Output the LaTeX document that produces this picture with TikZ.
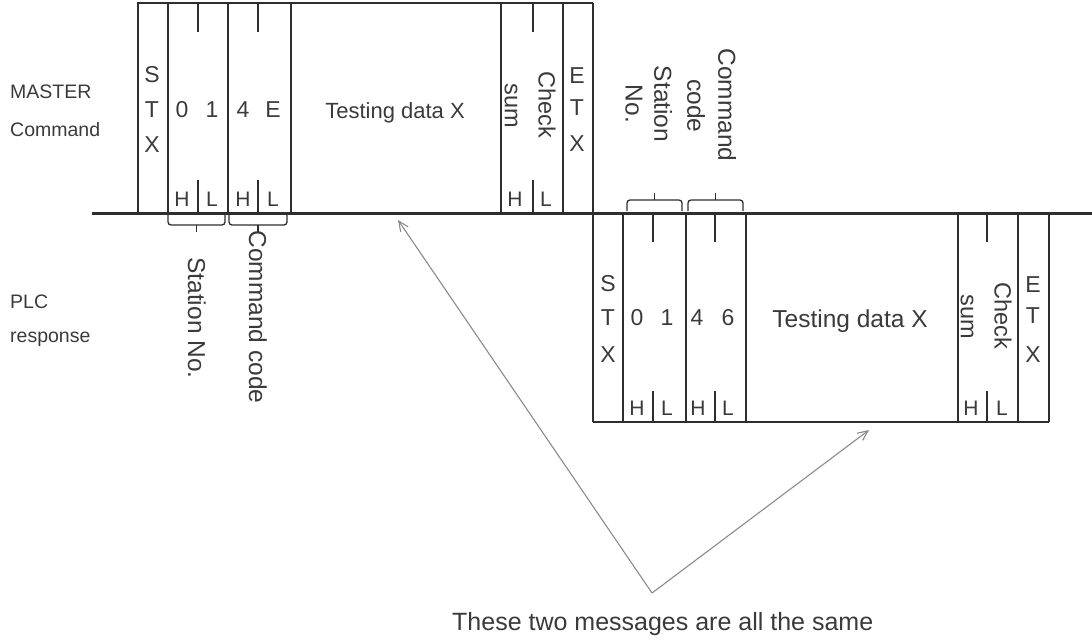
\documentclass[tikz,border=0pt]{standalone}
\usepackage{fontspec}
\setmainfont{Liberation Sans}
\usetikzlibrary{arrows.meta}
\definecolor{ink}{HTML}{2E2E2E}
\definecolor{txt}{HTML}{3A3A3A}
\definecolor{arr}{HTML}{8A8A8A}
\begin{document}
\begin{tikzpicture}[x=1pt,y=-1pt,
 frame/.style={draw=ink,line width=1.3pt},
 bus/.style={draw=ink,line width=3pt},
 ch/.style={text=txt,inner sep=0pt,font=\fontsize{23}{23}\selectfont},
 hl/.style={text=txt,inner sep=0pt,font=\fontsize{21}{21}\selectfont},
 lbl/.style={text=txt,inner sep=0pt,anchor=base west,font=\fontsize{19.5}{19.5}\selectfont},
 rot/.style={text=txt,inner sep=0pt,rotate=-90,font=\fontsize{24.5}{24.5}\selectfont},
 csum/.style={text=txt,inner sep=0pt,rotate=-90,font=\fontsize{23.5}{23.5}\selectfont},
 brace/.style={draw=ink,line width=1.3pt,rounded corners=3pt},
 pointer/.style={draw=arr,line width=1.1pt,-{Straight Barb[length=10pt,width=9pt]}}
]
\useasboundingbox (0,0) rectangle (1092,643);

% ---------- master command frame ----------
\draw[frame] (138,213) -- (138,3) -- (593,3);
\foreach \x in {168,228,291,501,563} \draw[frame] (\x,3) -- (\x,213);
\draw[frame] (593,3) -- (593,422);
\foreach \x in {198,258,533} {
  \draw[frame] (\x,3) -- (\x,32);
  \draw[frame] (\x,180) -- (\x,213);
}

% ---------- PLC response frame ----------
\foreach \x in {623,686,746,958,1018,1049} \draw[frame] (\x,214) -- (\x,422);
\draw[frame] (593,422) -- (1049,422);
\foreach \x in {653,715,987} {
  \draw[frame] (\x,214) -- (\x,242);
  \draw[frame] (\x,391) -- (\x,422);
}

% ---------- bus line ----------
\draw[bus] (92,213.5) -- (1092,213.5);

% ---------- braces ----------
\draw[brace] (168,215) -- (168,225) -- (225,225) -- (225,215);
\draw[frame] (196.5,225) -- (196.5,232);
\draw[brace] (229,215) -- (229,225) -- (287,225) -- (287,215);
\draw[frame] (258,225) -- (258,232);
\draw[brace] (627,211) -- (627,200) -- (682,200) -- (682,211);
\draw[frame] (654.5,200) -- (654.5,193);
\draw[brace] (688,211) -- (688,200) -- (743,200) -- (743,211);
\draw[frame] (715.5,200) -- (715.5,193);

% ---------- left labels ----------
\node[lbl] (lmaster) at (10,98) {MASTER};
\node[lbl] (lcommand) at (10,136) {Command};
\node[lbl] (lplc) at (10,308) {PLC};
\node[lbl] (lresp) at (10,342) {response};

% ---------- master texts ----------
\node[ch] (ms) at (152,75) {S};
\node[ch] (mt) at (152,110) {T};
\node[ch] (mx) at (152,145) {X};
\node[ch] (m0) at (182,110) {0};
\node[ch] (m1) at (212,110) {1};
\node[ch] (m4) at (243,110) {4};
\node[ch] (me) at (273,110) {E};
\node[hl] (mh1) at (182,199) {H};
\node[hl] (ml1) at (212,199) {L};
\node[hl] (mh2) at (243,199) {H};
\node[hl] (ml2) at (273,199) {L};
\node[text=txt,inner sep=0pt,anchor=base,font=\fontsize{22}{22}\selectfont] (mdata) at (395,118) {Testing data X};
\node[csum] (msum) at (511,106) {sum};
\node[csum] (mcheck) at (547,105) {Check};
\node[hl] (mh3) at (515,199) {H};
\node[hl] (ml3) at (546,199) {L};
\node[ch] (mee) at (577,76) {E};
\node[ch] (met) at (577,108) {T};
\node[ch] (mex) at (577,144) {X};

% ---------- response texts ----------
\node[ch] (rs) at (608,284) {S};
\node[ch] (rt) at (608,318) {T};
\node[ch] (rx) at (608,355) {X};
\node[ch] (r0) at (637,318) {0};
\node[ch] (r1) at (667,318) {1};
\node[ch] (r4) at (697,318) {4};
\node[ch] (r6) at (728,318) {6};
\node[hl] (rh1) at (637,408) {H};
\node[hl] (rl1) at (667,408) {L};
\node[hl] (rh2) at (698,408) {H};
\node[hl] (rl2) at (728,408) {L};
\node[text=txt,inner sep=0pt,anchor=base,font=\fontsize{24.5}{24.5}\selectfont] (rdata) at (850,327) {Testing data X};
\node[csum] (rsum) at (967,317) {sum};
\node[csum] (rcheck) at (1003,316) {Check};
\node[hl] (rh3) at (971,408) {H};
\node[hl] (rl3) at (1002,408) {L};
\node[ch] (ree) at (1033,285) {E};
\node[ch] (ret) at (1033,316) {T};
\node[ch] (rex) at (1033,355) {X};

% ---------- field name labels ----------
\node[rot] (mstation) at (197,318) {Station No.};
\node[rot] (mcmd) at (258,317) {Command code};
\node[rot] (rstation) at (663,104) {Station};
\node[rot] (rno) at (634,104) {No.};
\node[rot] (rcommand) at (727,105) {Command};
\node[rot] (rcode) at (696,106) {code};

% ---------- pointer arrows ----------
\coordinate (apex) at (652,593);
\coordinate (tipm) at (398,220);
\coordinate (tipr) at (869,430);
\draw[pointer] (apex) -- (tipm);
\draw[pointer] (apex) -- (tipr);
\node[text=txt,inner sep=0pt,anchor=base west,font=\fontsize{25}{25}\selectfont] (note) at (452,630) {These two messages are all the same};
\end{tikzpicture}
\end{document}
